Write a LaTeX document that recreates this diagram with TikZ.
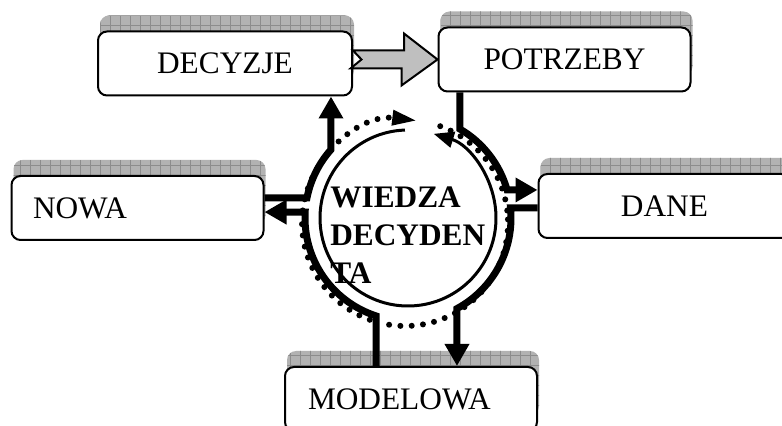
\documentclass[tikz,border=0pt]{standalone}
\usepackage{fontspec}
\setmainfont{Liberation Serif}
\usetikzlibrary{arrows.meta,calc,shadows,patterns.meta}
\begin{document}
\begin{tikzpicture}
[x=0.75pt, y=0.75pt, font=\fontsize{23.5}{28.5}\selectfont,
box/.style={
draw, line width=1.5pt, rounded corners=6.75pt, fill=white,
minimum width=189pt, minimum height=48pt, inner sep=0pt,
general shadow={fill=black!30, shadow xshift=1.5pt, shadow yshift=12pt},
general shadow={pattern={Hatch[distance=7.5pt, line width=0.5pt]},
  pattern color=black!45, shadow xshift=1.5pt, shadow yshift=12pt}},
conn/.style={line width=5.25pt, -{Triangle[length=16.5pt,width=17.5pt]}},
dots/.style={line width=4.5pt, line cap=round, dash pattern=on 0pt off 8.5pt}]

\useasboundingbox (0,0) rectangle (782,425);

\node (decyzje) at (225,361.5) [box, minimum width=190.5pt] {DECYZJE};
\node (potrzeby) at (564.5,365.5) [box] {POTRZEBY};
\node (nowa) at (137.5,217) [box, align=left, text width=156.75pt, inner xsep=15.75pt] {NOWA};
\node (dane) at (664.5,219) [box] {DANE};
\node (modelowa) at (411,26) [box, align=left, text width=154.5pt, inner xsep=17.25pt] {MODELOWA};

\draw[line width=1.5pt, fill=black!25] (decyzje.east |- potrzeby.west) ++(0,9) -- ++(51,0) -- ++(0,17)
  -- (potrzeby.west) -- ++(-36,-26) -- ++(0,17) -- ++(-51,0) -- ++(11,9) -- cycle;

\coordinate (hub) at (408,207);
\coordinate (dhub) at (405,202);
\coordinate (a1) at ($(hub)+(168.8:103)$);
\coordinate (a2) at ($(hub)+(138.4:103)$);
\coordinate (b1) at ($(hub)+(59.7:103)$);
\coordinate (b2) at ($(hub)+(15.8:103)$);
\coordinate (c1) at ($(hub)+(5.6:103)$);
\coordinate (c2) at ($(hub)+(-61.6:103)$);
\coordinate (d1) at ($(hub)+(251.9:103)$);
\coordinate (d2) at ($(hub)+(176.7:103)$);

\draw[dots] ($(dhub)+(250:103)$) arc[start angle=250, end angle=176, radius=103];
\draw[dots, -{Triangle[length=19pt,width=10.5pt]}] ($(dhub)+(173:103)$) arc[start angle=173, end angle=83, radius=103];
\draw[dots] ($(dhub)+(70:103)$) arc[start angle=70, end angle=5, radius=103];
\draw[dots] ($(dhub)+(2:103)$) arc[start angle=2, end angle=-100, radius=103];

\draw[conn] (nowa.east |- a1) -- (a1) arc[start angle=168.8, end angle=138.4, radius=103] -- (a2 |- decyzje.south);
\draw[conn] (b1 |- potrzeby.south) -- (b1) arc[start angle=59.7, end angle=15.8, radius=103] -- (dane.west |- b2);
\draw[conn] (dane.west |- c1) -- (c1) arc[start angle=5.6, end angle=-61.6, radius=103] -- (c2 |- modelowa.north);
\draw[conn] (d1 |- modelowa.north) -- (d1) arc[start angle=251.9, end angle=176.7, radius=103] -- (nowa.east |- d2);

\draw[line width=2.25pt, -{Triangle[length=15pt,width=12pt]}] ($(hub)+(92:88)$) arc[start angle=92, end angle=433, radius=88];

\node (wiedza) at (330,238) [anchor=north west, inner sep=0pt, align=left,
  font=\fontsize{23.5}{28.5}\selectfont\bfseries] {WIEDZA\\DECYDEN\\TA};

\end{tikzpicture}
\end{document}
